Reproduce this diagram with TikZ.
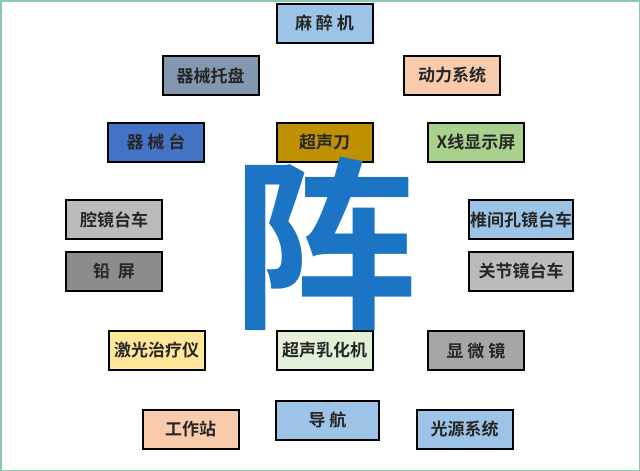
\documentclass[tikz,border=0pt]{standalone}
\usepackage{fontspec}
\newfontfamily\cjk{Noto Sans CJK SC}
\newfontfamily\cjkb{Noto Sans CJK SC Bold}
\definecolor{lblue}{HTML}{9DC3E6}
\definecolor{slate}{HTML}{8497B0}
\definecolor{peach}{HTML}{F8CBAD}
\definecolor{mblue}{HTML}{4472C4}
\definecolor{gold}{HTML}{BF9000}
\definecolor{lgreen}{HTML}{A9D18E}
\definecolor{lgrey}{HTML}{BBBBBB}
\definecolor{dgrey}{HTML}{8C8C8C}
\definecolor{mgrey}{HTML}{A6A6A6}
\definecolor{lyellow}{HTML}{FFE699}
\definecolor{pgreen}{HTML}{E2F0D9}
\definecolor{zhen}{HTML}{1B75C4}
\definecolor{frame}{HTML}{8CC8B0}
\tikzset{
  box/.style={draw=black, line width=2pt, minimum width=96pt, minimum height=39pt,
    inner sep=0pt, font=\cjkb\fontsize{17}{17}\selectfont, text=black!85},
}
\begin{document}
\begin{tikzpicture}[x=1pt,y=-1pt]
\path[use as bounding box, fill=white, draw=frame, line width=1.5pt] (0.75,0.75) rectangle (639.25,470.25);
\node[box, fill=lblue] (mzj) at (324.5,23.5) {麻 醉 机};
\node[box, fill=slate] (qxtp) at (210.5,75.5) {器械托盘};
\node[box, fill=peach] (dlxt) at (452,75.5) {动力系统};
\node[box, fill=mblue] (qxt) at (156,142) {器 械 台};
\node[box, fill=gold] (csd) at (324.5,142) {超声刀};
\node[box, fill=lgreen] (xx) at (476,142) {X线显示屏};
\node[box, fill=lgrey] (qjtc) at (114,219.5) {腔镜台车};
\node[box, fill=dgrey] (qp) at (114,271) {铅 \ 屏};
\node[box, fill=lblue, minimum width=104pt] (zjk) at (521,219.5) {椎间孔镜台车};
\node[box, fill=lgrey, minimum width=104pt] (gjj) at (521,271) {关节镜台车};
\node[box, fill=lyellow] (jgzl) at (156.5,350.5) {激光治疗仪};
\node[box, fill=pgreen] (csrh) at (324.5,350.5) {超声乳化机};
\node[box, fill=mgrey] (xwj) at (476,350.5) {显 微 镜};
\node[box, fill=peach] (gzz) at (190.5,429) {工作站};
\node[box, fill=lblue, minimum width=103pt] (dh) at (327.5,420) {导 航};
\node[box, fill=lblue] (gyxt) at (464.5,429) {光源系统};
\node[inner sep=0pt, text=zhen, font=\cjkb\fontsize{185}{185}\selectfont] (zhenc) at (325,244) {阵};
\end{tikzpicture}
\end{document}
